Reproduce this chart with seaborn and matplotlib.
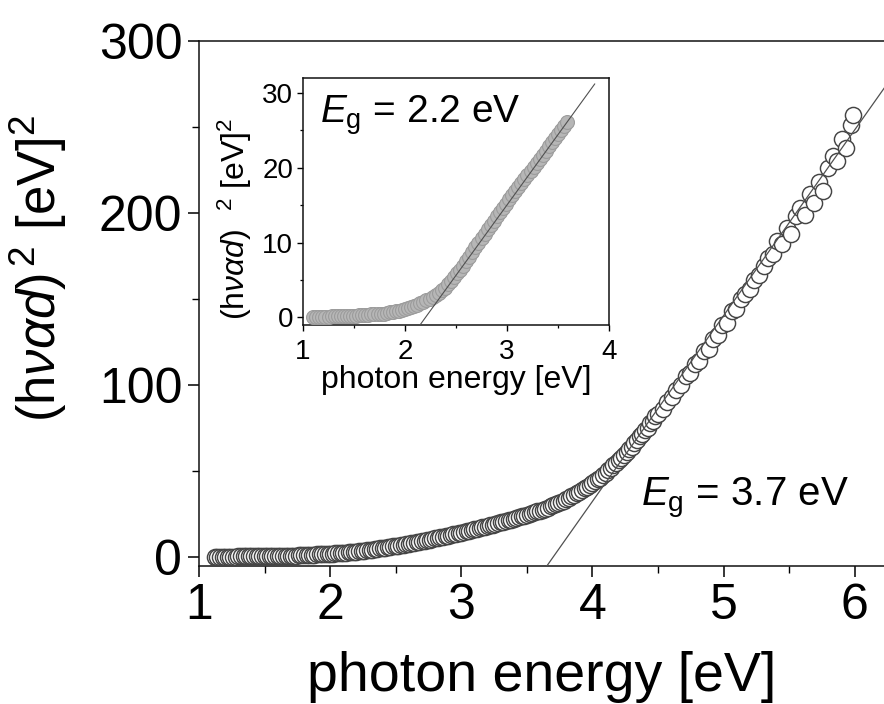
import matplotlib
matplotlib.use("Agg")
import matplotlib.pyplot as plt
import seaborn as sns
import numpy as np
import pandas as pd

# ---- main panel: (h nu alpha d)^2 vs photon energy ----
energy_main = [
    1.12, 1.14, 1.16, 1.18, 1.20, 1.22, 1.24, 1.26, 1.28, 1.30,
    1.32, 1.34, 1.36, 1.38, 1.40, 1.42, 1.44, 1.46, 1.48, 1.50,
    1.52, 1.54, 1.56, 1.58, 1.60, 1.62, 1.64, 1.66, 1.68, 1.70,
    1.72, 1.74, 1.76, 1.78, 1.80, 1.82, 1.84, 1.86, 1.88, 1.90,
    1.92, 1.94, 1.96, 1.98, 2.00, 2.02, 2.04, 2.06, 2.08, 2.10,
    2.12, 2.14, 2.16, 2.18, 2.20, 2.22, 2.24, 2.26, 2.28, 2.30,
    2.32, 2.34, 2.36, 2.38, 2.40, 2.42, 2.44, 2.46, 2.48, 2.50,
    2.52, 2.54, 2.56, 2.58, 2.60, 2.62, 2.64, 2.66, 2.68, 2.70,
    2.72, 2.74, 2.76, 2.78, 2.80, 2.82, 2.84, 2.86, 2.88, 2.90,
    2.92, 2.94, 2.96, 2.98, 3.00, 3.02, 3.04, 3.06, 3.08, 3.10,
    3.12, 3.14, 3.16, 3.18, 3.20, 3.22, 3.24, 3.26, 3.28, 3.30,
    3.32, 3.34, 3.36, 3.38, 3.40, 3.42, 3.44, 3.46, 3.48, 3.50,
    3.52, 3.54, 3.56, 3.58, 3.60,
    3.62, 3.64, 3.66, 3.68, 3.70, 3.72, 3.74, 3.76, 3.78, 3.80,
    3.82, 3.84, 3.86, 3.88, 3.90, 3.92, 3.94, 3.96, 3.98, 4.00,
    4.02, 4.04, 4.06, 4.08, 4.10, 4.12, 4.14, 4.16, 4.18, 4.20,
    4.22, 4.24, 4.26, 4.28, 4.30, 4.32, 4.34, 4.36, 4.38, 4.40,
    4.42, 4.44, 4.46, 4.48, 4.50,
    4.535, 4.570, 4.605, 4.640, 4.675, 4.710, 4.745, 4.780, 4.815, 4.850,
    4.885, 4.920, 4.955, 4.990, 5.025, 5.060, 5.095, 5.130, 5.165, 5.200,
    5.235, 5.270, 5.305, 5.340, 5.375, 5.410, 5.445, 5.480, 5.515, 5.550,
    5.585, 5.620, 5.655, 5.690, 5.725, 5.760, 5.795, 5.830, 5.865, 5.900,
    5.935, 5.970, 5.990,
]
signal_main = [
    0.2, 0.2, 0.2, 0.3, 0.3, 0.3, 0.3, 0.3, 0.3, 0.4,
    0.4, 0.4, 0.4, 0.4, 0.4, 0.5, 0.5, 0.5, 0.5, 0.5,
    0.6, 0.6, 0.6, 0.6, 0.7, 0.7, 0.7, 0.8, 0.8, 0.8,
    0.9, 0.9, 1.0, 1.0, 1.1, 1.2, 1.3, 1.3, 1.4, 1.5,
    1.5, 1.6, 1.7, 1.8, 1.8, 2.0, 2.1, 2.2, 2.4, 2.5,
    2.6, 2.8, 2.9, 3.1, 3.2, 3.4, 3.6, 3.8, 4.0, 4.2,
    4.4, 4.6, 4.8, 5.0, 5.2, 5.4, 5.7, 5.9, 6.2, 6.5,
    6.7, 7.0, 7.3, 7.5, 7.8, 8.1, 8.4, 8.7, 9.0, 9.3,
    9.6, 9.9, 10.2, 10.5, 10.8, 11.1, 11.5, 11.8, 12.2, 12.5,
    12.8, 13.2, 13.5, 13.9, 14.2, 14.6, 15.0, 15.3, 15.7, 16.1,
    16.5, 16.8, 17.2, 17.6, 18.0, 18.4, 18.8, 19.2, 19.6, 20.1,
    20.5, 20.9, 21.3, 21.8, 22.2, 22.7, 23.1, 23.6, 24.1, 24.5,
    25.0, 25.5, 26.0, 26.5, 27.0,
    27.6, 28.2, 28.8, 29.4, 30.0, 30.7, 31.3, 32.0, 32.7, 33.5,
    34.4, 35.3, 36.2, 37.1, 38.0, 39.0, 39.9, 40.9, 41.9, 43.0,
    44.0, 45.3, 46.2, 47.6, 48.8, 50.5, 51.6, 53.4, 54.5, 56.4,
    57.5, 59.6, 60.8, 63.0, 64.2, 66.5, 67.8, 70.3, 71.4, 73.8,
    75.0, 77.8, 78.9, 81.8, 83.0,
    86, 90, 93, 97, 100, 105, 107, 112, 114, 120,
    121, 127, 129, 135, 136, 143, 144, 150, 153, 156,
    161, 164, 169, 174, 176, 184, 182, 191, 188, 198,
    203, 199, 211, 206, 218, 213, 226, 233, 230, 243,
    238, 251, 257,
]

# ---- inset: same quantity for the second film ----
energy_inset = [
    1.10, 1.13, 1.16, 1.19, 1.22, 1.25, 1.28, 1.31, 1.34, 1.37,
    1.40, 1.43, 1.46, 1.49, 1.52, 1.55, 1.58, 1.61, 1.64, 1.67,
    1.70, 1.73, 1.76, 1.79, 1.82, 1.85, 1.88, 1.91, 1.94, 1.97,
    2.00, 2.03, 2.06, 2.09, 2.12, 2.15, 2.18, 2.21, 2.24, 2.27,
    2.30, 2.33, 2.36, 2.39, 2.42, 2.45, 2.48, 2.51, 2.54, 2.57,
    2.60, 2.63, 2.66, 2.69, 2.72, 2.75, 2.78, 2.81, 2.84, 2.87,
    2.90, 2.93, 2.96, 2.99, 3.02, 3.05, 3.08, 3.11, 3.14, 3.17,
    3.20, 3.23, 3.26, 3.29, 3.32, 3.35, 3.38, 3.41, 3.44, 3.47,
    3.50, 3.53, 3.56, 3.59,
]
signal_inset = [
    0.1, 0.1, 0.1, 0.1, 0.1, 0.1, 0.2, 0.2, 0.2, 0.2,
    0.2, 0.2, 0.2, 0.2, 0.2, 0.3, 0.3, 0.3, 0.3, 0.4,
    0.4, 0.4, 0.5, 0.5, 0.6, 0.7, 0.7, 0.8, 0.9, 1.0,
    1.1, 1.2, 1.4, 1.5, 1.7, 1.9, 2.1, 2.3, 2.5, 2.8,
    3.0, 3.3, 3.7, 4.0, 4.5, 4.9, 5.4, 5.9, 6.4, 6.9,
    7.5, 8.1, 8.7, 9.4, 10.0, 10.6, 11.2, 11.8, 12.4, 12.9,
    13.5, 14.1, 14.6, 15.2, 15.8, 16.3, 16.9, 17.4, 17.9, 18.5,
    19.0, 19.6, 20.1, 20.6, 21.2, 21.7, 22.3, 22.9, 23.4, 24.0,
    24.5, 25.1, 25.6, 26.1,
]

# Tauc-plot extrapolations: band gap (x-intercept) and slope of the linear part
gap_main, slope_main = 3.7, 108.0
gap_inset, slope_inset = 2.2, 18.8

x_ticks_main = [1, 2, 3, 4, 5, 6]
y_ticks_main = [0, 100, 200, 300]
x_ticks_inset = [1, 2, 3, 4]
y_ticks_inset = [0, 10, 20, 30]

sns.set_theme(style="ticks")
plt.rcParams["font.family"] = ["Liberation Sans", "DejaVu Sans"]
plt.rcParams["mathtext.fontset"] = "custom"
plt.rcParams["mathtext.rm"] = "Liberation Sans"
plt.rcParams["mathtext.it"] = "Liberation Sans:italic"
plt.rcParams["mathtext.bf"] = "Liberation Sans:bold"
for key in ["text.color", "axes.labelcolor", "xtick.color", "ytick.color",
            "axes.edgecolor"]:
    plt.rcParams[key] = "#000000"

df_main = pd.DataFrame({"E": energy_main, "S": signal_main})
df_inset = pd.DataFrame({"E": energy_inset, "S": signal_inset})

fig = plt.figure(figsize=(8.84, 7.04), dpi=100)
ax = fig.add_axes([0.2251, 0.196, 0.7760, 0.7458])

x_lo, x_hi = 1.0, 6.23
y_lo, y_hi = -5.2, 300
ax.set_xlim(x_lo, x_hi)
ax.set_ylim(y_lo, y_hi)

sns.scatterplot(data=df_main, x="E", y="S", ax=ax, marker="o", s=135,
                facecolor="white", edgecolor="#454545", linewidth=1.05,
                legend=False, zorder=3)

fit_x = np.array([gap_main + y_lo / slope_main, x_hi])
sns.lineplot(x=fit_x, y=slope_main * (fit_x - gap_main), ax=ax,
             color="#505050", linewidth=0.9, zorder=4)

ax.set_xticks(x_ticks_main)
ax.set_xticks([1.5, 2.5, 3.5, 4.5, 5.5], minor=True)
ax.set_yticks(y_ticks_main)
ax.set_yticks([50, 150, 250], minor=True)
ax.tick_params(which="major", direction="out", length=8, width=1.1,
               labelsize=36, pad=4)
ax.tick_params(which="minor", direction="out", length=5, width=1.0)
for side in ["left", "bottom", "top"]:
    ax.spines[side].set_linewidth(1.1)
    ax.spines[side].set_color("#111111")
ax.spines["right"].set_visible(False)

ax.set_xlabel("photon energy [eV]", fontsize=40, labelpad=16)
ax.set_ylabel(r"(h$\nu\alpha d$)$^{\,2}$ [eV]$^2$", fontsize=38)
ax.yaxis.set_label_coords(-0.19, 0.567)

ax.text(4.37, 30, r"$E_{\mathrm{g}}$ = 3.7 eV", fontsize=29, va="baseline",
        ha="left")

# ---- inset ----
axin = fig.add_axes([0.3428, 0.5384, 0.3462, 0.3509])
axin.set_xlim(1, 4)
axin.set_ylim(-1, 32)

sns.scatterplot(data=df_inset, x="E", y="S", ax=axin, marker="o", s=100,
                facecolor="#b6b6b6", edgecolor="#9c9c9c", linewidth=0.8,
                legend=False, zorder=3)

fit_xi = np.array([gap_inset - 1 / slope_inset, 3.86])
sns.lineplot(x=fit_xi, y=slope_inset * (fit_xi - gap_inset), ax=axin,
             color="#505050", linewidth=0.8, zorder=4)

axin.set_xticks(x_ticks_inset)
axin.set_xticks([1.5, 2.5, 3.5], minor=True)
axin.set_yticks(y_ticks_inset)
axin.set_yticks([5, 15, 25], minor=True)
axin.tick_params(axis="x", which="major", pad=6)
axin.tick_params(which="major", direction="out", length=4, width=1.0,
                 labelsize=20)
axin.tick_params(axis="y", which="major", pad=3)
axin.tick_params(which="minor", direction="out", length=2.5, width=0.9)
for side in axin.spines.values():
    side.set_linewidth(1.1)
    side.set_color("#111111")

axin.set_xlabel("photon energy [eV]", fontsize=23, labelpad=0)
axin.set_ylabel(r"(h$\nu\alpha d$)  $^2$ [eV]$^2$", fontsize=23)
axin.yaxis.set_label_coords(-0.16, 0.43)

axin.text(1.17, 26.0, r"$E_{\mathrm{g}}$ = 2.2 eV", fontsize=28,
          va="baseline", ha="left")

fig.savefig("out.png", dpi=100, facecolor="white")
